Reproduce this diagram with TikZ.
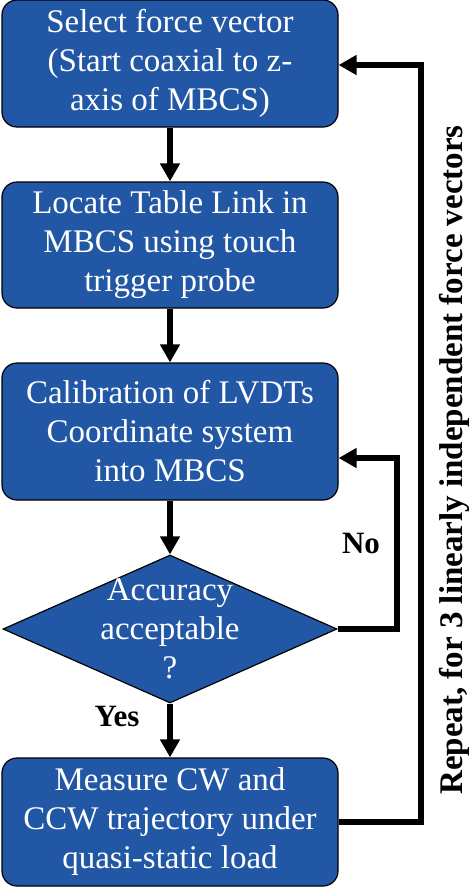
\documentclass[tikz,border=0pt]{standalone}
\usepackage{fontspec}
\setmainfont{Liberation Serif}
\usetikzlibrary{shapes.geometric,arrows.meta,calc}
\definecolor{boxblue}{RGB}{33,87,165}
\begin{document}
\begin{tikzpicture}[x=1pt,y=-1pt,
  stepbox/.style={draw=black, line width=1.2pt, fill=boxblue, rounded corners=15pt,
    minimum width=336pt, inner sep=0pt, text=white, align=center,
    font=\fontsize{33}{39}\selectfont},
  decide/.style={draw=black, line width=1.2pt, fill=boxblue, shape=diamond,
    minimum width=334pt, minimum height=148pt, inner sep=0pt},
  decidetext/.style={text=white, align=center, inner sep=0pt,
    font=\fontsize{33}{39}\selectfont},
  arr/.style={line width=6pt, -{Triangle[width=19pt,length=18pt]}},
  lbl/.style={font=\fontsize{31}{36}\selectfont\bfseries, inner sep=0pt}
]
\useasboundingbox (0,0) rectangle (470,887);
\node[stepbox, minimum height=127pt] (b1) at (170,63.5) {Select force vector\\(Start coaxial to z-\\axis of MBCS)};
\node[stepbox, minimum height=126pt] (b2) at (170,245) {Locate Table Link in\\MBCS using touch\\trigger probe};
\node[stepbox, minimum height=137pt] (b3) at (170,431.5) {Calibration of LVDTs\\Coordinate system\\into MBCS};
\node[decide, label={[decidetext]center:Accuracy\\acceptable\\?}] (d) at (170,629) {};
\node[stepbox, minimum height=128pt] (b4) at (170,822) {Measure CW and\\CCW trajectory under\\quasi-static load};

\draw[arr] (b1.south) -- (b2.north);
\draw[arr] (b2.south) -- (b3.north);
\draw[arr] (b3.south) -- (d.north);
\draw[arr] (d.south) -- (b4.north);

\coordinate (nocol) at (397,458);
\draw[arr] (d.east) -| (nocol) -- (nocol -| b3.east);
\coordinate (rep) at (421,65);
\draw[arr] (b4.east) -| (rep) -- (rep -| b1.east);

\node[lbl] (no) at (361,543) {No};
\node[lbl] (yes) at (117,716) {Yes};
\node[font=\fontsize{33}{39}\selectfont\bfseries, inner sep=0pt, rotate=90] (rpt) at (454,460) {Repeat, for 3 linearly independent force vectors};
\end{tikzpicture}
\end{document}
